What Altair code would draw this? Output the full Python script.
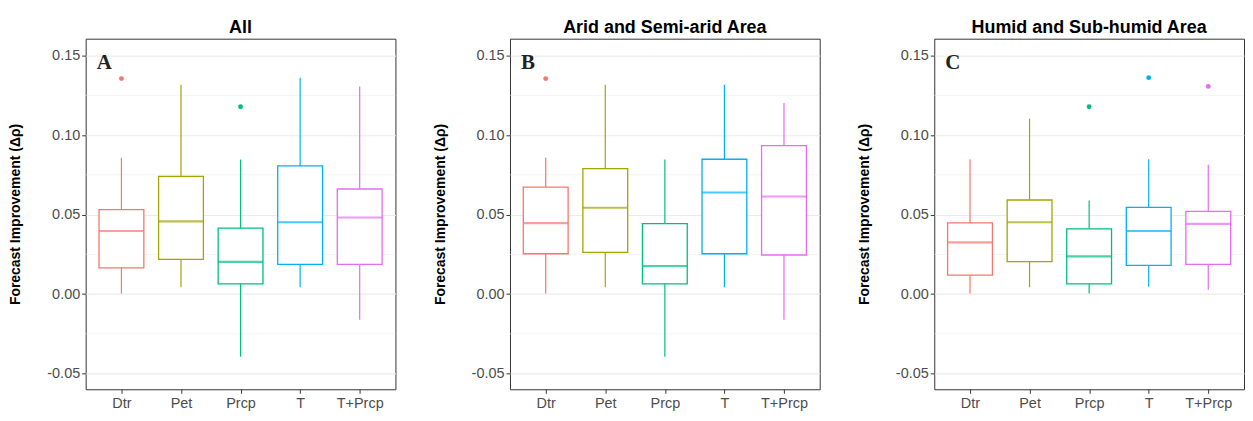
import altair as alt
import pandas as pd

categories = ["Dtr", "Pet", "Prcp", "T", "T+Prcp"]
colors = ["#F8766D", "#A3A500", "#00BF7D", "#00B0F6", "#E76BF3"]
panel_titles = ["All", "Arid and Semi-arid Area", "Humid and Sub-humid Area"]
panel_letters = ["A", "B", "C"]

# Panel A (All)
a_low = [0.0004, 0.0043, -0.0393, 0.0043, -0.0161]
a_q1 = [0.0165, 0.0218, 0.0065, 0.0187, 0.0187]
a_med = [0.0397, 0.0458, 0.0203, 0.0452, 0.0482]
a_q3 = [0.0531, 0.0741, 0.0415, 0.0806, 0.0661]
a_high = [0.0857, 0.1316, 0.0846, 0.1361, 0.1306]
a_out_cat = ["Dtr", "Prcp"]
a_out_val = [0.1355, 0.1178]

# Panel B (Arid and Semi-arid)
b_low = [0.0004, 0.0043, -0.0393, 0.0043, -0.0161]
b_q1 = [0.0254, 0.0262, 0.0065, 0.0254, 0.0246]
b_med = [0.0446, 0.0543, 0.0177, 0.0639, 0.0614]
b_q3 = [0.0673, 0.0789, 0.0444, 0.0848, 0.0934]
b_high = [0.0857, 0.1316, 0.0846, 0.1316, 0.1202]
b_out_cat = ["Dtr"]
b_out_val = [0.1355]

# Panel C (Humid and Sub-humid)
c_low = [0.0004, 0.0043, 0.0004, 0.0047, 0.0028]
c_q1 = [0.0120, 0.0205, 0.0065, 0.0181, 0.0187]
c_med = [0.0326, 0.0452, 0.0238, 0.0397, 0.0442]
c_q3 = [0.0448, 0.0592, 0.0411, 0.0545, 0.0521]
c_high = [0.0848, 0.1103, 0.0588, 0.0848, 0.0814]
c_out_cat = ["Prcp", "T", "T+Prcp"]
c_out_val = [0.1178, 0.1361, 0.1306]

major_breaks = [-0.05, 0.0, 0.05, 0.10, 0.15]
minor_breaks = [-0.025, 0.025, 0.075, 0.125]
y_domain = [-0.0598, 0.1606]
y_title = "Forecast Improvement (\u0394\u03c1)"

W, H = 311, 352
BOX = 45

xscale = alt.Scale(type="point", domain=categories, padding=0.6)
yscale = alt.Scale(domain=y_domain, nice=False, zero=False)
cscale = alt.Scale(domain=categories, range=colors)
yaxis = alt.Axis(values=major_breaks, format=".2f",
                 labelExpr="replace(datum.label, '\u2212', '-')")


def Y(field):
    return alt.Y(field, scale=yscale, title=y_title, axis=yaxis)


def panel(title, letter, low, q1, med, q3, high, out_cat, out_val):
    df = pd.DataFrame({"cat": categories, "low": low, "q1": q1, "med": med,
                       "q3": q3, "high": high})
    odf = pd.DataFrame({"cat": out_cat, "val": out_val})
    gdf = pd.DataFrame({"v": minor_breaks})
    ldf = pd.DataFrame({"t": [letter]})

    X = alt.X("cat:N", scale=xscale, title=None, sort=categories)

    minor = alt.Chart(gdf).mark_rule(color="#EBEBEB", strokeWidth=0.6).encode(
        y=Y("v:Q")
    )
    whisk = alt.Chart(df).mark_rule(strokeWidth=1.2).encode(
        x=X, y=Y("low:Q"), y2="high:Q",
        color=alt.Color("cat:N", scale=cscale, legend=None),
    )
    box = alt.Chart(df).mark_bar(size=BOX, fill="white", strokeWidth=1.3).encode(
        x=X, y=Y("q1:Q"), y2="q3:Q",
        stroke=alt.Stroke("cat:N", scale=cscale, legend=None),
    )
    medl = alt.Chart(df).mark_tick(size=BOX, thickness=2.2).encode(
        x=X, y=Y("med:Q"),
        color=alt.Color("cat:N", scale=cscale, legend=None),
    )
    outl = alt.Chart(odf).mark_circle(size=24, opacity=1).encode(
        x=X, y=Y("val:Q"),
        color=alt.Color("cat:N", scale=cscale, legend=None),
    )
    lab = alt.Chart(ldf).mark_text(
        font="Liberation Serif", fontSize=21, fontWeight="bold", align="left",
        baseline="middle", color="#222222"
    ).encode(text="t:N", x=alt.value(11), y=alt.value(24))

    return alt.layer(minor, whisk, box, medl, outl, lab).properties(
        width=W, height=H,
        title=alt.TitleParams(title, fontSize=18, fontWeight="bold",
                              font="Liberation Sans", anchor="middle",
                              color="black", offset=2),
    )


pa = panel(panel_titles[0], panel_letters[0], a_low, a_q1, a_med, a_q3, a_high, a_out_cat, a_out_val)
pb = panel(panel_titles[1], panel_letters[1], b_low, b_q1, b_med, b_q3, b_high, b_out_cat, b_out_val)
pc = panel(panel_titles[2], panel_letters[2], c_low, c_q1, c_med, c_q3, c_high, c_out_cat, c_out_val)

chart = alt.hconcat(pa, pb, pc, spacing=36).properties(
    padding={"left": 0, "top": 9, "right": 0, "bottom": 0}
).configure_view(
    stroke="#333333", strokeWidth=1
).configure_axis(
    labelFont="Liberation Sans", labelFontSize=14.5, labelColor="#4D4D4D",
    titleFont="Liberation Sans", titleFontSize=14, titleFontWeight="bold",
    titleColor="black", tickColor="#333333", tickSize=4, domain=False,
    gridColor="#EBEBEB", gridWidth=1.1,
).configure_axisY(
    labelPadding=2, titlePadding=24, labelFlush=False,
).configure_axisX(
    labelAngle=0, labelPadding=3,
)

chart.save("out.html", embed_options={"renderer": "svg", "actions": False})
